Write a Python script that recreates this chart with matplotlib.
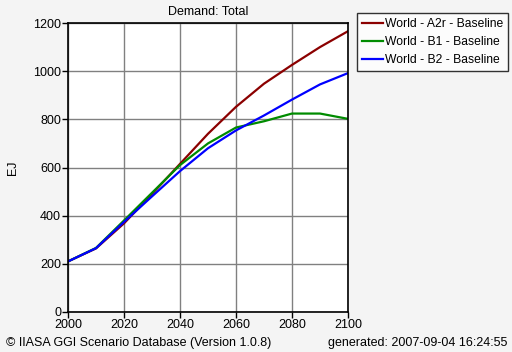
import numpy as np
import matplotlib.pyplot as plt

plt.rcParams['font.family'] = ['Liberation Sans', 'DejaVu Sans']

# data (EJ)
years = [2000, 2010, 2020, 2030, 2040, 2050, 2060, 2070, 2080, 2090, 2100]
a2r = [210, 264, 368, 490, 615, 740, 852, 948, 1026, 1100, 1166]
b1 = [210, 266, 380, 495, 610, 700, 766, 792, 824, 824, 802]
b2 = [210, 265, 374, 480, 585, 680, 754, 816, 882, 945, 992]
labels = ['World - A2r - Baseline', 'World - B1 - Baseline', 'World - B2 - Baseline']
colors = ['#8b0000', '#008b00', '#0000ff']

fs = 9

fig = plt.figure(figsize=(5.12, 3.52), dpi=100, facecolor='#f4f4f4')
ax = fig.add_axes([68/512, 1 - 312/352, 280/512, 289/352])
ax.set_facecolor('white')

for vals, lab, c in zip([a2r, b1, b2], labels, colors):
    ax.plot(years, vals, color=c, lw=1.6, label=lab)

ax.set_xlim(2000, 2100)
ax.set_ylim(0, 1200)
ax.set_xticks(range(2000, 2101, 20))
ax.set_yticks(range(0, 1201, 200))
ax.grid(True, color='#808080', lw=1)
ax.set_axisbelow(True)
ax.tick_params(direction='out', length=4, width=1, labelsize=fs, pad=1)
for s in ax.spines.values():
    s.set_linewidth(1.2)
ax.set_ylabel('EJ', fontsize=fs, labelpad=10)
ax.set_title('Demand: Total', fontsize=fs, pad=6)

leg = fig.legend(loc='upper left', bbox_to_anchor=(357/512, 1 - 13/352),
                 fontsize=8.7, frameon=True, fancybox=False, handlelength=1.75,
                 handletextpad=0.2, borderpad=0.4, labelspacing=0.5,
                 borderaxespad=0)
leg.get_frame().set_edgecolor('black')
leg.get_frame().set_linewidth(1)

fig.text(6/512, 1 - 343/352, '\u00a9 IIASA GGI Scenario Database (Version 1.0.8)',
         fontsize=fs, va='center', ha='left')
fig.text(507/512, 1 - 343/352, 'generated: 2007-09-04 16:24:55',
         fontsize=fs, va='center', ha='right')

fig.savefig('out.png', dpi=100, facecolor=fig.get_facecolor())
